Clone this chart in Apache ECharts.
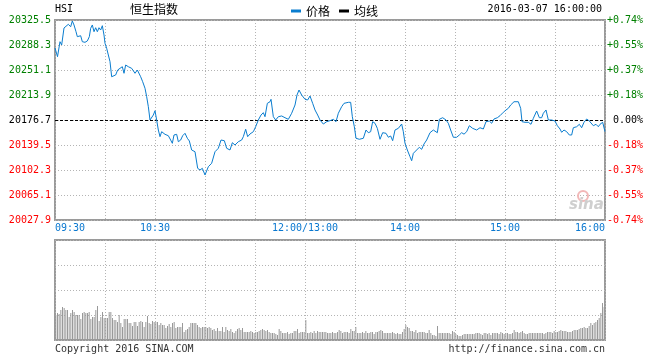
<!DOCTYPE html>
<html>
<head>
<meta charset="utf-8">
<script src="https://cdn.jsdelivr.net/npm/echarts@6/dist/echarts.min.js"></script>
<style>html,body{margin:0;padding:0;background:#fff}#c{width:660px;height:360px}</style>
</head>
<body>
<div id="c"></div>
<script>
// ---- data ----
const prevClose = 20176.7;
const priceMin = 20027.9;
const priceMax = 20325.5;
const priceStep = 37.2;

// minutes since 09:30 (lunch break removed; 150 = 12:00/13:00)
const minutes = [
  0,1.5,3,4,5.4,6.6,8,9.4,10.4,11.4,
  12.6,13.4,14.6,15.4,16.4,18,19.4,20.6,21.4,22.4,
  23.4,24.4,25.4,26.4,27.4,28.4,29.4,30,31,32,
  33,34,35,36.4,37.6,39,40.4,41.4,42.4,44,
  46,48,49.4,50.4,51.4,52.6,54,55,56,57,
  58,59,60,61,62,63,64,65,66,68,
  69.4,70.4,71.4,73,74,75.4,76.6,78,79.4,80.6,
  82,84,85.6,87,88.4,90,92,94,96,98,
  99.6,101.6,103,105,106.4,108,110,112,113,114.4,
  115.6,117,119,120.4,122,123.6,125,126,127.4,129,
  129.6,131,132.4,134,136,138,140,142,144,145.2,
  146.4,148,150,151.6,153,154.6,156,157.6,159,161,
  163,165,167,168.6,170,172,173.4,176,177.4,178.4,
  179.6,180.6,182.6,185,186.6,188,189.4,190.6,192,193.4,
  195,196.6,198.6,200,201.4,202.6,204,206,208,209,
  210,211.4,213,214,215,217,218.6,220,221.4,223,
  225,227,228,229.4,230.6,232.6,234.6,236,237.4,239,
  241,242.6,244,245.4,247,248.6,250.6,253,255,257,
  258.6,260.6,262,263.4,265.4,267,269,270.6,272,273.4,
  275.4,278,279.4,280.2,282,284,285.6,287,289,290.6,
  292,293,294.6,296,298,300,301.4,303,304,305.4,
  307,308.6,310,311,313,314.6,316,317.4,319,320.6,
  321.6,323,324.6,326,327,328.6,330
];
const prices = [
  20283.8,20270.9,20293.2,20288.3,20313.6,20315.5,20319.1,20315.5,20324.0,20318.1,
  20308.1,20300.7,20298.3,20302.1,20293.2,20292.3,20294.3,20300.7,20313.1,20318.1,
  20308.1,20314.0,20308.1,20314.0,20310.6,20317.0,20303.2,20290.8,20283.4,20273.4,
  20263.5,20241.1,20241.1,20243.7,20251.1,20253.6,20256.0,20246.2,20258.5,20256.0,
  20253.6,20246.2,20251.1,20252.6,20241.1,20233.7,20223.9,20211.4,20196.5,20176.7,
  20176.7,20184.1,20190.5,20176.7,20161.8,20151.9,20159.3,20161.8,20155.4,20153.3,
  20146.9,20142.0,20154.4,20155.4,20144.4,20146.9,20153.3,20156.9,20149.5,20145.5,
  20132.1,20129.5,20104.8,20102.3,20104.8,20094.9,20107.2,20112.3,20129.5,20134.6,
  20146.9,20145.9,20134.6,20132.1,20142.9,20139.5,20144.4,20146.9,20151.9,20162.9,
  20151.9,20155.9,20159.3,20166.7,20176.7,20184.1,20187.6,20181.6,20201.5,20203.9,
  20207.5,20181.6,20176.7,20181.6,20182.7,20180.1,20177.7,20186.7,20199.0,20213.9,
  20221.3,20213.9,20207.5,20206.5,20212.4,20201.5,20191.6,20184.1,20176.7,20170.7,
  20174.2,20175.7,20177.7,20174.2,20186.7,20196.5,20201.5,20203.0,20203.0,20181.6,
  20166.7,20149.5,20148.0,20149.5,20161.8,20157.8,20159.3,20174.2,20171.8,20164.3,
  20148.0,20157.8,20156.9,20151.0,20152.9,20145.9,20161.8,20164.3,20170.7,20159.3,
  20142.0,20132.1,20122.1,20116.1,20127.1,20132.1,20136.1,20133.1,20141.0,20146.9,
  20157.8,20161.8,20164.3,20157.8,20177.7,20180.1,20176.7,20171.8,20161.8,20151.0,
  20151.0,20154.4,20157.8,20155.6,20159.3,20168.2,20164.3,20161.8,20165.2,20163.3,
  20174.2,20175.2,20171.8,20178.2,20180.1,20183.1,20188.2,20191.6,20194.1,20199.0,
  20203.9,20203.9,20194.1,20174.2,20173.3,20173.3,20170.3,20179.2,20190.1,20180.1,
  20180.1,20186.7,20191.6,20176.7,20176.7,20175.2,20168.2,20163.3,20158.4,20161.8,
  20159.3,20154.4,20154.4,20165.2,20166.7,20170.3,20165.2,20173.3,20178.2,20175.2,
  20177.7,20168.2,20170.3,20166.7,20170.3,20173.3,20159.3
];
// one volume bar per minute (relative units, axis 0..100)
const volumes = [
  25,27,26,30,33,32,30,30,23,27,30,28,25,25,25,
  21,27,28,27,27,28,21,23,23,30,34,19,23,28,22,22,22,
  28,28,22,20,20,18,25,17,13,21,21,21,17,17,14,18,18,
  14,18,19,18,13,18,24,17,16,19,18,18,18,15,17,15,15,
  12,14,16,13,17,18,12,13,13,13,17,8,10,11,13,17,17,
  17,17,15,13,12,13,13,13,12,13,12,10,11,9,12,9,9,
  13,8,13,10,9,11,8,7,9,11,12,10,12,8,8,8,8,
  9,8,7,8,8,9,10,11,10,9,10,8,7,7,7,
  6,5,11,9,7,7,7,8,6,7,7,9,9,
  11,7,8,8,8,
  20,
  7,7,8,7,9,7,9,8,8,8,8,8,7,7,7,
  8,7,7,8,10,9,7,8,8,8,7,11,9,9,
  13,7,7,7,8,7,9,7,7,8,8,6,8,8,
  9,10,9,7,7,7,7,7,8,7,6,7,6,6,
  8,11,15,13,12,9,9,8,10,7,8,8,8,8,
  7,7,10,7,5,5,4,14,7,7,7,7,7,7,
  7,6,9,8,6,5,4,4,5,6,6,6,6,6,
  6,6,7,7,7,6,5,7,7,6,7,5,7,7,
  7,7,6,8,7,6,7,7,6,6,7,10,8,8,
  7,8,9,7,6,6,7,7,7,7,7,7,7,7,
  7,6,7,8,8,8,7,9,8,8,9,10,9,9,
  9,8,8,8,9,10,10,10,11,12,12,13,12,12,14,17,15,17,18,20,22,27,37,33
];
const timeTickMinutes = [0, 60, 150, 210, 270, 330];
const timeTickLabels = ['09:30', '10:30', '12:00/13:00', '14:00', '15:00', '16:00'];

// ---- chart ----
const MONO = 'DejaVu Sans Mono';
const CJK = 'Noto Sans CJK SC';
const GRID_BORDER = '#9a9a9a';
const DOT = {color: '#b4b4b4', type: [1, 2], width: 1};

const pricePairs = minutes.map((m, i) => [m, prices[i]]);
const volPairs = volumes.map((v, i) => [i + 0.5, v]);

function valueColor(v) {
  if (Math.abs(v - prevClose) < 0.05) return '#000000';
  return v > prevClose ? '#008000' : '#ff0000';
}
function pctText(v) {
  const p = (v - prevClose) / prevClose * 100;
  if (Math.abs(p) < 0.005) return '0.00%';
  return (p > 0 ? '+' : '-') + Math.abs(p).toFixed(2) + '%';
}

const chart = echarts.init(document.getElementById('c'), null, {renderer: 'canvas'});
chart.setOption({
  animation: false,
  backgroundColor: '#fff',
  legend: {
    left: 286, top: 0,
    icon: 'rect', itemWidth: 10, itemHeight: 3, itemGap: 9,
    textStyle: {fontFamily: CJK, fontSize: 12, color: '#000'},
    data: ['价格', '均线']
  },
  grid: [
    {left: 55, top: 20, width: 550, height: 200, show: true, borderColor: GRID_BORDER, borderWidth: 2, backgroundColor: 'transparent'},
    {left: 55, top: 240, width: 550, height: 100, show: true, borderColor: GRID_BORDER, borderWidth: 2, backgroundColor: 'transparent'}
  ],
  xAxis: [
    {
      type: 'value', gridIndex: 0, min: 0, max: 330, interval: 30,
      axisLine: {show: false}, axisTick: {show: false},
      splitLine: {show: true, lineStyle: DOT},
      axisLabel: {
        show: true, margin: 3, color: '#0a78d0', fontFamily: MONO, fontSize: 10,
        alignMinLabel: 'left', alignMaxLabel: 'right', showMinLabel: true, showMaxLabel: true,
        formatter: v => {
          const k = timeTickMinutes.indexOf(Math.round(v));
          return k >= 0 ? timeTickLabels[k] : '';
        }
      }
    },
    {
      type: 'value', gridIndex: 1, min: 0, max: 330, interval: 30,
      axisLine: {show: false}, axisTick: {show: false}, axisLabel: {show: false},
      splitLine: {show: true, lineStyle: DOT}
    }
  ],
  yAxis: [
    {
      type: 'value', gridIndex: 0, min: priceMin, max: priceMax, interval: priceStep,
      axisLine: {show: false}, axisTick: {show: false},
      splitLine: {show: true, lineStyle: DOT},
      axisLabel: {
        margin: 4, fontFamily: MONO, fontSize: 10, padding: [0, 0, 5, 0],
        color: v => valueColor(v),
        formatter: v => v.toFixed(1)
      }
    },
    {
      type: 'value', gridIndex: 0, position: 'right', min: priceMin, max: priceMax, interval: priceStep,
      axisLine: {show: false}, axisTick: {show: false}, splitLine: {show: false},
      axisLabel: {
        margin: 38, align: 'right', fontFamily: MONO, fontSize: 10, padding: [0, 0, 5, 0],
        color: v => valueColor(v),
        formatter: v => pctText(v)
      }
    },
    {
      type: 'value', gridIndex: 1, min: 0, max: 100, interval: 25,
      axisLine: {show: false}, axisTick: {show: false}, axisLabel: {show: false},
      splitLine: {show: true, lineStyle: DOT}
    }
  ],
  series: [
    {
      name: '价格', type: 'line', xAxisIndex: 0, yAxisIndex: 0,
      data: pricePairs, symbol: 'none', showSymbol: false,
      itemStyle: {color: '#0a7dcf'},
      lineStyle: {color: '#0a7dcf', width: 1},
      markLine: {
        silent: true, symbol: 'none', label: {show: false},
        lineStyle: {color: '#000', type: [3, 2], width: 1},
        data: [{yAxis: prevClose}]
      },
      z: 5
    },
    {
      name: '均线', type: 'line', xAxisIndex: 0, yAxisIndex: 0,
      data: [], symbol: 'none', itemStyle: {color: '#000'}, lineStyle: {color: '#000', width: 1}
    },
    {
      name: '成交量', type: 'bar', xAxisIndex: 1, yAxisIndex: 2,
      data: volPairs, barWidth: 1, itemStyle: {color: '#999999'}
    }
  ],
  graphic: [
    {type: 'text', left: 55, top: 4, style: {text: 'HSI', font: '10px "' + MONO + '"', fill: '#000'}},
    {type: 'text', left: 130, top: 3, style: {text: '恒生指数', font: '12px "' + CJK + '"', fill: '#000'}},
    {type: 'text', right: 58, top: 4, style: {text: '2016-03-07 16:00:00', font: '10px "' + MONO + '"', fill: '#000'}},
    {type: 'text', left: 55, top: 344, style: {text: 'Copyright 2016 SINA.COM', font: '10px "' + MONO + '"', fill: '#333'}},
    {type: 'text', right: 55, top: 344, style: {text: 'http://finance.sina.com.cn', font: '10px "' + MONO + '"', fill: '#333'}},
    {type: 'circle', shape: {cx: 583, cy: 196, r: 5}, style: {fill: 'none', stroke: '#f2b8b8', lineWidth: 2}, z: 1},
    {type: 'text', left: 569, top: 198, style: {text: 'sina', font: 'italic bold 15px "DejaVu Sans"', fill: '#cfcfcf'}, z: 1}
  ]
});
</script>
</body>
</html>
